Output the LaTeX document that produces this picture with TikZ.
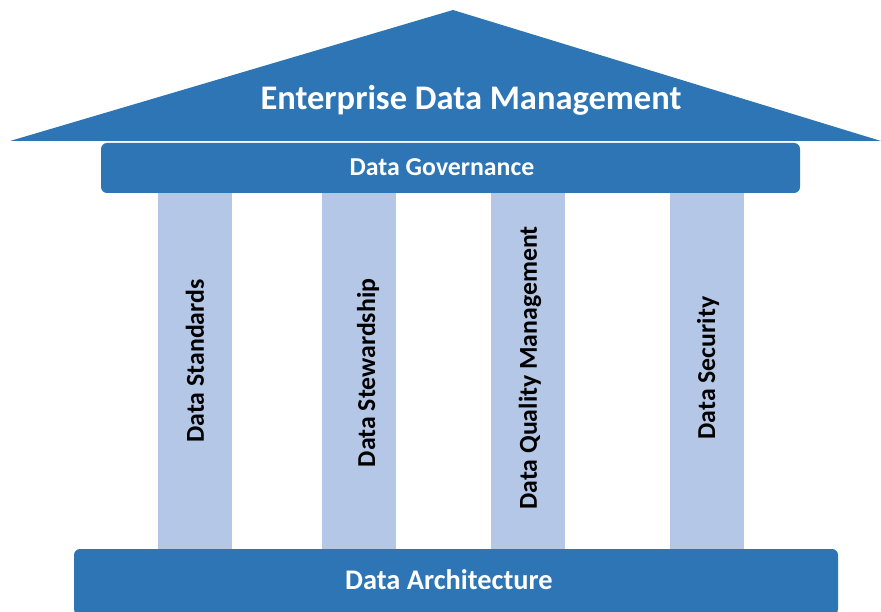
\documentclass[tikz,border=0pt]{standalone}
\usepackage{fontspec}
\setmainfont{Carlito}
\usepackage{tikz}
\usetikzlibrary{positioning}
\definecolor{edmblue}{HTML}{2E75B6}
\definecolor{edmlight}{HTML}{B4C7E7}
\tikzset{
  bar/.style={rectangle, rounded corners=6pt, fill=edmblue, inner sep=0pt},
  bartext/.style={text=white, font=\bfseries\fontsize{25.8}{30}\selectfont},
  pillar/.style={rectangle, fill=edmlight, minimum width=74pt, minimum height=356pt, inner sep=0pt},
  pillartext/.style={rotate=90, font=\bfseries\fontsize{25.8}{30}\selectfont, inner sep=0pt}
}

\begin{document}
\begin{tikzpicture}[x=1pt, y=-1pt]
    \useasboundingbox (0,0) rectangle (881,612);
    % pillars
    \node (standards)    at (195,371) [pillar] {};
    \node (stewardship)  at (359,371) [pillar] {};
    \node (quality)      at (528,371) [pillar] {};
    \node (security)     at (707,371) [pillar] {};
    \node at (195,361) [pillartext] {Data Standards};
    \node at (368,373) [pillartext] {Data Stewardship};
    \node at (530,368) [pillartext] {Data Quality Management};
    \node at (708,368) [pillartext] {Data Security};
    % roof
    \coordinate (roofl) at (10,141);
    \coordinate (roofr) at (881,141);
    \coordinate (apex)  at (453,10);
    \fill[edmblue] (roofl) -- (apex) -- (roofr) -- cycle;
    \node (edm) at (471,100) [bartext, font=\bfseries\fontsize{34.5}{40}\selectfont] {Enterprise Data Management};
    % bars
    \node (governance)   at (450.5,168) [bar, minimum width=699pt, minimum height=50pt] {};
    \node at (442,167) [bartext] {Data Governance};
    \node (architecture) at (456,582) [bar, minimum width=764pt, minimum height=66pt] {};
    \node at (449,580) [bartext, font=\bfseries\fontsize{28.4}{33}\selectfont] {Data Architecture};
\end{tikzpicture}
\end{document}
